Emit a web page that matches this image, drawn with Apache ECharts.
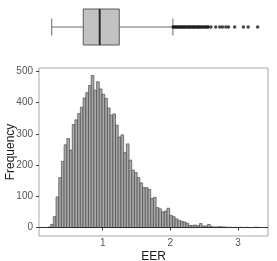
<!DOCTYPE html>
<html><head><meta charset="utf-8">
<script src="https://cdn.jsdelivr.net/npm/echarts@6/dist/echarts.min.js"></script>
<style>html,body{margin:0;padding:0;background:#fff}#c{width:277px;height:261px}</style>
</head><body><div id="c"></div>
<script>
// ---- data ----
const binStart = 0.19;
const binWidth = 0.04;
const counts = [2, 10, 35, 98, 160, 212, 265, 285, 248, 330,
  345, 365, 385, 415, 432, 455, 487, 440, 467, 444,
  427, 414, 383, 360, 364, 328, 290, 297, 240, 268,
  216, 184, 176, 160, 143, 128, 128, 122, 93, 97,
  64, 60, 50, 53, 62, 39, 35, 28, 23, 20,
  18, 14, 7, 7, 8, 6, 13, 5, 5, 10,
  3, 2, 2, 3, 2, 2, 1, 1, 0, 1,
  0, 1, 0, 1, 0, 0, 1, 1];
const boxStats = [0.247, 0.713, 0.956, 1.245, 2.038]; // lower whisker, Q1, median, Q3, upper whisker
const outliers = [2.04, 2.055, 2.07, 2.09, 2.105, 2.12, 2.14, 2.155, 2.17, 2.19,
  2.205, 2.22, 2.24, 2.26, 2.275, 2.29, 2.31, 2.33, 2.345, 2.36,
  2.38, 2.40, 2.415, 2.43, 2.45, 2.47, 2.49, 2.51, 2.53, 2.55, 2.56,
  2.60, 2.67, 2.73, 2.77, 2.82, 2.86, 2.95, 3.08, 3.15, 3.29];
const xTicks = [1, 2, 3];
const yTicks = [0, 100, 200, 300, 400, 500];

const X_MIN = 0.059, X_MAX = 3.443;
const Y_MIN = -27, Y_MAX = 511;
const FONT = 'Liberation Sans, Arial, sans-serif';

const histData = counts.map((c, k) => [binStart + k * binWidth, binStart + (k + 1) * binWidth, c]);

const chart = echarts.init(document.getElementById('c'), null, {renderer: 'canvas'});
chart.setOption({
  animation: false,
  backgroundColor: '#fff',
  grid: [
    {left: 39, right: 9, top: 68, bottom: 25, show: true, borderColor: '#a8a8a8', borderWidth: 1,
     backgroundColor: 'transparent', containLabel: false, outerBoundsMode: 'none'},
    {left: 39, right: 9, top: 0, height: 54, show: false, containLabel: false, outerBoundsMode: 'none'}
  ],
  xAxis: [
    {type: 'value', gridIndex: 0, min: X_MIN, max: X_MAX,
     name: 'EER', nameLocation: 'middle', nameGap: 15, nameMoveOverlap: false,
     nameTextStyle: {fontFamily: FONT, fontSize: 12, color: '#1a1a1a'},
     axisLine: {show: false}, splitLine: {show: false},
     axisTick: {show: true, length: 3, lineStyle: {color: '#444'}, customValues: xTicks},
     axisLabel: {fontFamily: FONT, fontSize: 10, color: '#555', margin: 2, customValues: xTicks}},
    {type: 'value', gridIndex: 1, min: X_MIN, max: X_MAX, show: false}
  ],
  yAxis: [
    {type: 'value', gridIndex: 0, min: Y_MIN, max: Y_MAX,
     name: 'Frequency', nameLocation: 'middle', nameGap: 22, nameMoveOverlap: false,
     nameTextStyle: {fontFamily: FONT, fontSize: 12, color: '#1a1a1a'},
     axisLine: {show: false}, splitLine: {show: false},
     axisTick: {show: true, length: 3, lineStyle: {color: '#444'}, customValues: yTicks},
     axisLabel: {fontFamily: FONT, fontSize: 10, color: '#555', margin: 6, customValues: yTicks}},
    {type: 'value', gridIndex: 1, min: -1, max: 1, show: false}
  ],
  series: [
    {
      type: 'custom', xAxisIndex: 0, yAxisIndex: 0,
      data: histData,
      encode: {x: [0, 1], y: 2},
      renderItem: function (params, api) {
        const p0 = api.coord([api.value(0), api.value(2)]);
        const p1 = api.coord([api.value(1), 0]);
        return {type: 'rect',
          shape: {x: p0[0], y: p0[1], width: p1[0] - p0[0], height: p1[1] - p0[1]},
          style: {fill: '#a9a9a9', stroke: '#3a3a3a', lineWidth: 0.6}};
      },
      markLine: {silent: true, symbol: 'none', label: {show: false},
        lineStyle: {color: '#333', width: 1, type: 'solid'},
        data: [{yAxis: 0}]}
    },
    {
      type: 'custom', xAxisIndex: 1, yAxisIndex: 1,
      data: [boxStats],
      encode: {x: [0, 1, 2, 3, 4]},
      renderItem: function (params, api) {
        const lo = api.coord([api.value(0), 0]);
        const q1 = api.coord([api.value(1), 0]);
        const md = api.coord([api.value(2), 0]);
        const q3 = api.coord([api.value(3), 0]);
        const hi = api.coord([api.value(4), 0]);
        const cy = md[1], hb = 18, hc = 8.5;
        const ls = {stroke: '#6a6a6a', lineWidth: 1};
        return {type: 'group', children: [
          {type: 'line', shape: {x1: lo[0], y1: cy, x2: q1[0], y2: cy}, style: ls},
          {type: 'line', shape: {x1: q3[0], y1: cy, x2: hi[0], y2: cy}, style: ls},
          {type: 'line', shape: {x1: lo[0], y1: cy - hc, x2: lo[0], y2: cy + hc}, style: ls},
          {type: 'line', shape: {x1: hi[0], y1: cy - hc, x2: hi[0], y2: cy + hc}, style: ls},
          {type: 'rect', shape: {x: q1[0], y: cy - hb, width: q3[0] - q1[0], height: 2 * hb},
            style: {fill: '#c2c2c2', stroke: '#5a5a5a', lineWidth: 1}},
          {type: 'line', shape: {x1: md[0], y1: cy - hb, x2: md[0], y2: cy + hb},
            style: {stroke: '#2a2a2a', lineWidth: 2}}
        ]};
      }
    },
    {
      type: 'scatter', xAxisIndex: 1, yAxisIndex: 1,
      data: outliers.map(v => [v, 0]),
      symbol: 'circle', symbolSize: 3.5,
      itemStyle: {color: '#1a1a1a'}
    }
  ]
});
</script></body></html>
